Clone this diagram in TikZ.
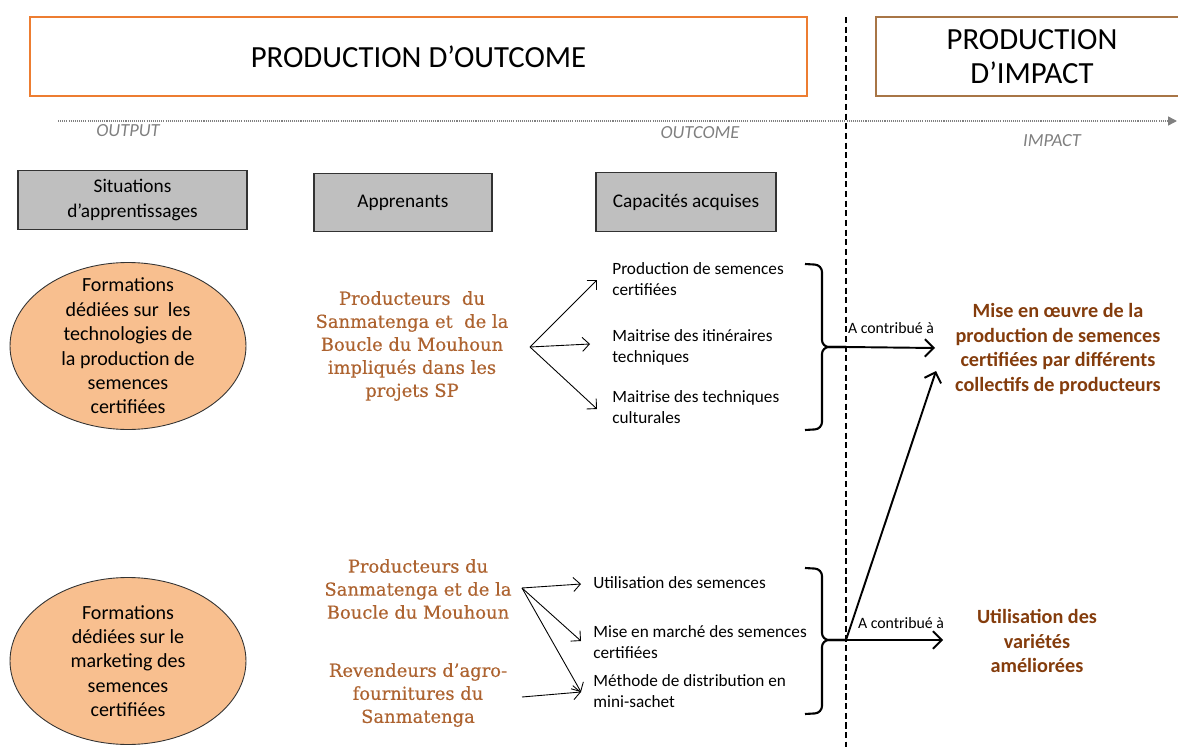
\documentclass[tikz,border=0pt]{standalone}
\usepackage{fontspec}
\setmainfont{Carlito}
\newfontfamily\acteurfont{DejaVu Serif}[FakeBold=0.5]
\usetikzlibrary{arrows.meta,positioning,shapes.geometric}
\definecolor{cadreoutcome}{HTML}{ED7D31}
\definecolor{cadreimpact}{HTML}{A87546}
\definecolor{grisboite}{HTML}{BFBFBF}
\definecolor{saumon}{HTML}{F8BF8F}
\definecolor{brunclair}{HTML}{AD6330}
\definecolor{brunfonce}{HTML}{843C0C}

\begin{document}
\begin{tikzpicture}[x=0.02cm,y=-0.02cm,
	cadre/.style={draw=#1,line width=0.7pt,minimum height=1.58cm,inner sep=0pt,align=center,font=\fontsize{17.5}{19.5}\selectfont},
	phase/.style={text=gray,font=\fontsize{10.5}{12}\selectfont\itshape},
	titre/.style={draw=black!80,fill=grisboite,line width=0.6pt,minimum height=1.17cm,align=center,font=\fontsize{11}{13.7}\selectfont},
	formation/.style={draw=black!80,fill=saumon,line width=0.5pt},
	acteur/.style={text=brunclair,align=center,font=\acteurfont\fontsize{10.2}{13.1}\selectfont},
	capacite/.style={anchor=west,inner sep=0pt,align=left,font=\fontsize{9.8}{11.95}\selectfont},
	effet/.style={text=brunfonce,align=center,font=\bfseries\fontsize{11.5}{14}\selectfont},
	lien/.style={font=\fontsize{9}{10}\selectfont},
	fleche/.style={-{Straight Barb[length=4pt,width=8pt]},line width=0.5pt},
	contribue/.style={-{Straight Barb[length=5pt,width=10pt]},line width=1.1pt},
	accolade/.style={line width=1.2pt,rounded corners=4pt}]
	\useasboundingbox (0,0) rectangle (1178,747);

	\node[cadre=cadreoutcome,minimum width=15.54cm] (outcome) at (418.5,56.5) {PRODUCTION D’OUTCOME};
	\node[cadre=cadreimpact,minimum width=6.24cm] (impact) at (1032,56.5) {PRODUCTION\\D’IMPACT};

	\coordinate(T0) at (58,121);
	\coordinate(T1) at (1177,121);
	\draw[gray,line width=0.8pt,dash pattern=on 0.6pt off 0.6pt,-{Triangle[length=5pt,width=5pt]}] (T0)--(T1);
	\coordinate(S0) at (846,17);
	\coordinate(S1) at (846,747);
	\draw[line width=1.1pt,dash pattern=on 3.5pt off 2pt] (S0)--(S1);

	\node[phase] (output) at (128,131) {OUTPUT};
	\node[phase] (outcomelbl) at (700,133) {OUTCOME};
	\node[phase] (impactlbl) at (1052,141) {IMPACT};

	\node[titre,minimum width=4.58cm] (situations) at (132.5,200) {Situations\\d’apprentissages};
	\node[titre,minimum width=3.56cm] (apprenants) at (403,202.5) {Apprenants};
	\node[titre,minimum width=3.6cm] (capacites) at (686,202) {Capacités acquises};

	\draw[formation] (128,346) ellipse [x radius=2.36cm,y radius=1.67cm];
	\draw[formation] (128,661) ellipse [x radius=2.36cm,y radius=1.67cm];
	\node[align=center,font=\fontsize{11.4}{13.9}\selectfont] (formA) at (128,346) {Formations\\dédiées sur~ les\\technologies de\\la production de\\semences\\certifiées};
	\node[align=center,font=\fontsize{11.4}{13.9}\selectfont] (formB) at (128,661) {Formations\\dédiées sur le\\marketing des\\semences\\certifiées};

	\node[acteur] (acteursA) at (412,346) {Producteurs~ du\\Sanmatenga et~ de la\\Boucle du Mouhoun\\impliqués dans les\\projets SP};
	\node[acteur] (acteursB) at (418,589) {Producteurs du\\Sanmatenga et de la\\Boucle du Mouhoun};
	\node[acteur] (revendeurs) at (418,695) {Revendeurs d’agro-\\fournitures du\\Sanmatenga};

	\node[capacite] (prodsem) at (612,279.5) {Production de semences\\certifiées};
	\node[capacite] (itineraires) at (612,347.5) {Maitrise des itinéraires\\techniques};
	\node[capacite] (techniques) at (612,407.5) {Maitrise des techniques\\culturales};
	\node[capacite] (utilisation) at (593,583) {Utilisation des semences};
	\node[capacite] (marche) at (593,642.5) {Mise en marché des semences\\certifiées};
	\node[capacite] (sachet) at (593,691.5) {Méthode de distribution en\\mini-sachet};

	\coordinate(FA) at (530,347);
	\coordinate(A1) at (597,280);
	\coordinate(A2) at (590,344);
	\coordinate(A3) at (597,409);
	\foreach \c in {A1,A2,A3}
		\draw[fleche] (FA)--(\c);
	\coordinate(FB) at (522,588);
	\coordinate(RB) at (522,697);
	\coordinate(B1) at (581,584);
	\coordinate(B2) at (581,641);
	\coordinate(B3) at (581,692);
	\foreach \c in {B1,B2,B3}
		\draw[fleche] (FB)--(\c);
	\draw[fleche] (RB)--(B3);

	\coordinate(KA) at (846,347);
	\coordinate(KB) at (846,640);
	\draw[accolade] (805,264)--(822,265)--(822,347)--(KA);
	\draw[accolade] (805,430)--(822,429)--(822,347)--(KA);
	\draw[accolade] (805,568)--(822,569)--(822,640)--(KB);
	\draw[accolade] (805,714)--(822,713)--(822,640)--(KB);

	\coordinate(EA) at (935,348);
	\coordinate(EB) at (943,640);
	\coordinate(EC) at (936,371);
	\draw[contribue] (KA)--(EA);
	\draw[contribue] (KB)--(EB);
	\draw[contribue] (KB)--(EC);
	\node[lien] (lienA) at (891,328) {A contribué à};
	\node[lien] (lienB) at (901,623) {A contribué à};

	\node[effet] (effetA) at (1058,349) {Mise en œuvre de la\\production de semences\\certifiées par différents\\collectifs de producteurs};
	\node[effet] (effetB) at (1037,641) {Utilisation des\\variétés\\améliorées};
\end{tikzpicture}
\end{document}
